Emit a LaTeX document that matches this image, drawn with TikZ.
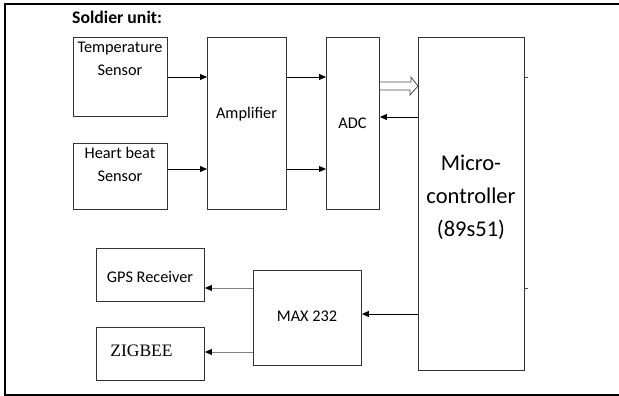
\documentclass[tikz,border=0pt]{standalone}
\usepackage{fontspec}
\setmainfont{Carlito}
\newfontfamily\zigfont{Liberation Serif}
\usetikzlibrary{arrows.meta}
\tikzset{
  blk/.style={draw=black!80, line width=0.9pt, inner sep=0pt, anchor=north west},
  arr/.style={line width=0.9pt, -{Triangle[length=7pt,width=6pt]}},
  gryarr/.style={line width=0.9pt, draw=black!50, -{Triangle[length=7pt,width=6pt,black]}},
  txt/.style={font=\fontsize{16.3}{23}\selectfont, align=center, inner sep=0pt}
}
\begin{document}
\begin{tikzpicture}[x=1pt,y=-1pt]
\useasboundingbox (0,0) rectangle (619,396);
% outer frame
\draw[line width=1.3pt] (619,4) -- (5,4) -- (5,395) -- (619,395);
\node[font=\bfseries\fontsize{17.7}{20}\selectfont, anchor=west, inner sep=0pt] (title) at (72,17) {Soldier unit:};

% blocks
\node[blk, minimum width=94pt, minimum height=79pt] (temp) at (73,37) {};
    \node[txt] (templbl) at (120,58.5) {Temperature\\Sensor};
\node[blk, minimum width=94pt, minimum height=66pt] (heart) at (73,143) {};
    \node[txt] (heartlbl) at (120,164.5) {Heart beat\\Sensor};
\node[blk, minimum width=79pt, minimum height=172pt] (amp) at (207,37) {};
    \node[txt] (amplbl) at (246.5,114) {Amplifier};
\node[blk, minimum width=53pt, minimum height=172pt] (adc) at (326,37) {};
    \node[txt] (adclbl) at (352.5,123) {ADC};
\node[blk, minimum width=106pt, minimum height=333pt] (mc) at (418,37) {};
    \node[txt, font=\fontsize{22.5}{33}\selectfont] (mclbl) at (471,197.5) {Micro-\\controller\\(89s51)};
\node[blk, minimum width=108pt, minimum height=53pt] (gps) at (96,248) {};
    \node[txt] (gpslbl) at (150,277) {GPS Receiver};
\node[blk, minimum width=108pt, minimum height=53pt] (zig) at (96,327) {};
    \node[txt, font=\zigfont\fontsize{17.5}{20}\selectfont] (ziglbl) at (141.5,351) {ZIGBEE};
\node[blk, minimum width=108pt, minimum height=95pt] (max) at (253,270) {};
    \node[txt] (maxlbl) at (307,316) {MAX 232};

% rows for the connectors
\coordinate (rowa) at (0,77);
\coordinate (rowb) at (0,169);
\coordinate (rowc) at (0,86);
\coordinate (rowd) at (0,117);
\coordinate (rowe) at (0,314);
\coordinate (rowf) at (0,288);
\coordinate (rowg) at (0,352);

% connectors
\draw[arr] (temp.east |- rowa) -- (amp.west |- rowa);
\draw[arr] (heart.east |- rowb) -- (amp.west |- rowb);
\draw[arr] (amp.east |- rowa) -- (adc.west |- rowa);
\draw[arr] (amp.east |- rowb) -- (adc.west |- rowb);
% hollow bus arrow ADC -> controller
\draw[black!70, line width=0.8pt, line join=miter] (adc.east |- rowc) ++(0,-4) -- ++(31,0) -- ++(0,-5)
    -- (mc.west |- rowc) -- ++(-8,9) -- ++(0,-5) -- ++(-31,0);
\draw[arr] (mc.west |- rowd) -- (adc.east |- rowd);
\draw[arr] (mc.west |- rowe) -- (max.east |- rowe);
\draw[gryarr] (max.west |- rowf) -- (gps.east |- rowf);
\draw[gryarr] (max.west |- rowg) -- (zig.east |- rowg);
% small stubs on the right of the controller
\draw[black!70, line width=0.9pt] (mc.east |- rowa) -- ++(3,0);
\draw[black!70, line width=0.9pt] (mc.east |- rowf) -- ++(3,0);
\end{tikzpicture}
\end{document}
